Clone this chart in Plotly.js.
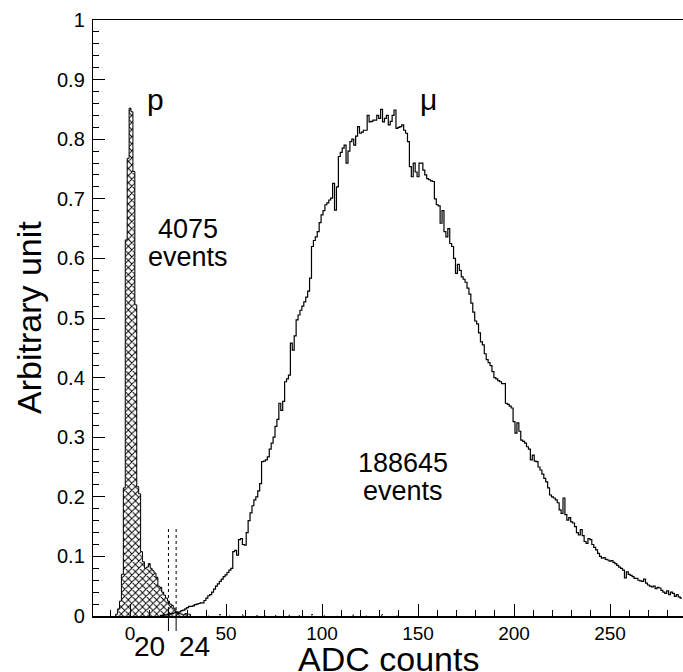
<!DOCTYPE html>
<html>
<head>
<meta charset="utf-8">
<script src="https://cdn.plot.ly/plotly-3.0.1.min.js"></script>
<style>html,body{margin:0;padding:0;background:#fff;}#chart{width:683px;height:672px;}</style>
</head>
<body>
<div id="chart"></div>
<script>
// ---------------- data ----------------
// proton histogram (1 ADC bins), first bin centre:
const pFirstBin = -7;
const pCounts = [0.003, 0.012, 0.025, 0.07, 0.215, 0.631, 0.768, 0.852, 0.846, 0.746,
  0.522, 0.217, 0.205, 0.108, 0.091, 0.08, 0.082, 0.088, 0.08, 0.076,
  0.072, 0.065, 0.05, 0.048, 0.04, 0.035, 0.03, 0.025, 0.02, 0.018,
  0.013, 0.008, 0.005, 0.004, 0.003, 0.002, 0.004, 0.003, 0.003];
// sparse tail entries of the proton histogram
const pTailBins = [41, 47, 52, 59, 66, 71, 76, 83, 88, 95, 101, 108, 116, 123, 131, 139];
const pTailCounts = [0.002, 0.003, 0.002, 0.003, 0.002, 0.003, 0.002, 0.003, 0.002, 0.003, 0.002, 0.002, 0.003, 0.002, 0.003, 0.002];

// muon histogram (1 ADC bins), first bin centre:
const muFirstBin = 16;
const muCounts = [
  0.001, 0.001, 0.002, 0.002, 0.003, 0.004, 0.004, 0.005, 0.006, 0.006,   // 16-25
  0.007, 0.009, 0.010, 0.012, 0.014, 0.016, 0.016, 0.017, 0.019, 0.020,   // 26-35
  0.021, 0.022, 0.022, 0.026, 0.030, 0.034, 0.036, 0.040, 0.045, 0.050,   // 36-45
  0.054, 0.058, 0.062, 0.066, 0.069, 0.073, 0.077, 0.080, 0.108, 0.110,   // 46-55
  0.102, 0.128, 0.130, 0.120, 0.119, 0.140, 0.160, 0.173, 0.185, 0.195,   // 56-65
  0.200, 0.210, 0.222, 0.259, 0.260, 0.262, 0.267, 0.280, 0.290, 0.300,   // 66-75
  0.318, 0.330, 0.357, 0.345, 0.360, 0.393, 0.398, 0.404, 0.458, 0.446,   // 76-85
  0.470, 0.497, 0.505, 0.513, 0.520, 0.527, 0.535, 0.545, 0.567, 0.620,   // 86-95
  0.630, 0.636, 0.645, 0.660, 0.673, 0.680, 0.690, 0.693, 0.698, 0.701,   // 96-105
  0.726, 0.681, 0.720, 0.771, 0.778, 0.785, 0.790, 0.760, 0.780, 0.796,   // 106-115
  0.800, 0.790, 0.805, 0.821, 0.810, 0.812, 0.815, 0.815, 0.840, 0.829,   // 116-125
  0.830, 0.832, 0.832, 0.840, 0.835, 0.850, 0.829, 0.835, 0.840, 0.824,   // 126-135
  0.830, 0.840, 0.849, 0.818, 0.820, 0.821, 0.824, 0.815, 0.810, 0.796,   // 136-145
  0.754, 0.737, 0.760, 0.745, 0.737, 0.760, 0.760, 0.748, 0.740, 0.734,   // 146-155
  0.732, 0.730, 0.729, 0.700, 0.690, 0.688, 0.659, 0.680, 0.645, 0.636,   // 156-165
  0.650, 0.625, 0.620, 0.600, 0.575, 0.590, 0.580, 0.569, 0.565, 0.560,   // 166-175
  0.550, 0.540, 0.525, 0.510, 0.495, 0.490, 0.475, 0.460, 0.455, 0.440,   // 176-185
  0.430, 0.425, 0.420, 0.410, 0.400, 0.398, 0.395, 0.393, 0.390, 0.390,   // 186-195
  0.357, 0.355, 0.352, 0.349, 0.326, 0.307, 0.324, 0.310, 0.295, 0.293,   // 196-205
  0.290, 0.284, 0.280, 0.262, 0.270, 0.260, 0.259, 0.250, 0.245, 0.238,   // 206-215
  0.231, 0.225, 0.215, 0.203, 0.200, 0.198, 0.195, 0.190, 0.178, 0.172,   // 216-225
  0.198, 0.170, 0.161, 0.165, 0.158, 0.156, 0.150, 0.140, 0.136, 0.145,   // 226-235
  0.135, 0.125, 0.122, 0.130, 0.128, 0.120, 0.115, 0.111, 0.105, 0.100,   // 236-245
  0.097, 0.098, 0.095, 0.094, 0.092, 0.093, 0.090, 0.088, 0.085, 0.082,   // 246-255
  0.080, 0.077, 0.064, 0.074, 0.070, 0.068, 0.066, 0.063, 0.063, 0.060,   // 256-265
  0.059, 0.058, 0.062, 0.055, 0.052, 0.050, 0.049, 0.050, 0.046, 0.048,   // 266-275
  0.047, 0.043, 0.040, 0.038, 0.042, 0.036, 0.040, 0.038, 0.033, 0.036,   // 276-285
  0.032, 0.030                                                            // 286-287
];

const cuts = [20, 24];          // cut positions (ADC counts)
const cutLineTop = 0.151;       // height of dotted cut markers
const xTickVals = [0, 50, 100, 150, 200, 250];
const xTickText = ['0', '50', '100', '150', '200', '250'];

// ---------------- helpers ----------------
function stepXY(firstBin, counts) {
  const xs = [firstBin - 0.5], ys = [0];
  counts.forEach((v, i) => { xs.push(firstBin + i - 0.5); ys.push(v); });
  xs.push(firstBin + counts.length - 0.5); ys.push(0);
  return {xs, ys};
}

const FONT = 'Liberation Sans, Arial, Helvetica, sans-serif';

const pBins = pCounts.map((_, i) => pFirstBin + i).concat(pTailBins);
const pVals = pCounts.concat(pTailCounts);
const pStep = stepXY(pFirstBin, pCounts);

const muStep = (function () {
  const xs = [], ys = [];
  muCounts.forEach((v, i) => { xs.push(muFirstBin + i - 0.5); ys.push(v); });
  xs.push(muFirstBin + muCounts.length - 0.5); ys.push(muCounts[muCounts.length - 1]);
  return {xs, ys};
})();

const traces = [
  {
    type: 'bar', x: pBins, y: pVals, width: 1,
    marker: {color: 'white', line: {width: 0},
             pattern: {shape: 'x', fgcolor: '#000', bgcolor: '#fff', size: 5, solidity: 0.35}},
    hoverinfo: 'skip', showlegend: false
  },
  {
    type: 'scatter', mode: 'lines', x: pStep.xs, y: pStep.ys,
    line: {shape: 'hv', color: '#000', width: 1}, hoverinfo: 'skip', showlegend: false
  },
  {
    type: 'scatter', mode: 'lines', x: muStep.xs, y: muStep.ys,
    line: {shape: 'hv', color: '#000', width: 1.2}, hoverinfo: 'skip', showlegend: false
  }
];

const plotH = 596; // px height of plotting area
const shapes = [];
cuts.forEach(c => {
  shapes.push({type: 'line', xref: 'x', yref: 'y', x0: c, x1: c, y0: 0, y1: cutLineTop,
               line: {color: '#000', width: 1, dash: 'dot'}});
  shapes.push({type: 'line', xref: 'x', yref: 'paper', x0: c, x1: c, y0: 0, y1: -15 / plotH,
               line: {color: '#000', width: 1}});
});

const annotations = [
  {text: '20', x: cuts[0], xref: 'x', y: -31 / plotH, yref: 'paper', xanchor: 'right', yanchor: 'middle',
   xshift: -1, showarrow: false, font: {family: FONT, size: 28, color: '#000'}},
  {text: '24', x: cuts[1], xref: 'x', y: -31 / plotH, yref: 'paper', xanchor: 'left', yanchor: 'middle',
   xshift: 1, showarrow: false, font: {family: FONT, size: 28, color: '#000'}},
  {text: 'ADC counts', x: 0.5, xref: 'paper', y: -43 / plotH, yref: 'paper', xanchor: 'center', yanchor: 'middle',
   showarrow: false, font: {family: FONT, size: 34, color: '#000'}},
  {text: 'Arbitrary unit', x: -64 / 590, xref: 'paper', y: 0.5, yref: 'paper', xanchor: 'center', yanchor: 'middle',
   textangle: -90, showarrow: false, font: {family: FONT, size: 34, color: '#000'}},
  {text: 'p', x: 13, xref: 'x', y: 0.866, yref: 'y', showarrow: false, font: {family: FONT, size: 30, color: '#000'}},
  {text: 'μ', x: 155.2, xref: 'x', y: 0.866, yref: 'y', showarrow: false, font: {family: FONT, size: 30, color: '#000'}},
  {text: '4075', x: 30, xref: 'x', y: 0.650, yref: 'y', showarrow: false, font: {family: FONT, size: 27, color: '#000'}},
  {text: 'events', x: 30, xref: 'x', y: 0.603, yref: 'y', showarrow: false, font: {family: FONT, size: 27, color: '#000'}},
  {text: '188645', x: 142.2, xref: 'x', y: 0.256, yref: 'y', showarrow: false, font: {family: FONT, size: 27, color: '#000'}},
  {text: 'events', x: 142.2, xref: 'x', y: 0.210, yref: 'y', showarrow: false, font: {family: FONT, size: 27, color: '#000'}}
];

const layout = {
  width: 683, height: 672,
  margin: {l: 93, r: 0, t: 20, b: 56, pad: 0},
  paper_bgcolor: '#fff', plot_bgcolor: '#fff',
  font: {family: FONT, color: '#000'},
  bargap: 0, showlegend: false,
  xaxis: {
    range: [-19.3, 288], showgrid: false, zeroline: false,
    showline: true, linecolor: '#000', linewidth: 1.5, mirror: true,
    ticks: 'inside', ticklen: 12, tickwidth: 1, tickcolor: '#000',
    tickvals: xTickVals, ticktext: xTickText, ticklabelstandoff: 0,
    tickfont: {family: FONT, size: 19, color: '#000'},
    minor: {dtick: 10, tick0: 0, ticks: 'inside', ticklen: 6, tickwidth: 1, tickcolor: '#000', showgrid: false},
    automargin: false, fixedrange: true
  },
  yaxis: {
    range: [0, 1], showgrid: false, zeroline: false,
    showline: true, linecolor: '#000', linewidth: 1.2,
    ticks: 'inside', ticklen: 12, tickwidth: 1, tickcolor: '#000',
    dtick: 0.1, tick0: 0, ticklabelstandoff: 3,
    tickfont: {family: FONT, size: 20, color: '#000'},
    minor: {dtick: 0.02, tick0: 0, ticks: 'inside', ticklen: 6, tickwidth: 1, tickcolor: '#000', showgrid: false},
    automargin: false, fixedrange: true
  },
  shapes: shapes,
  annotations: annotations
};

Plotly.newPlot('chart', traces, layout, {displayModeBar: false, staticPlot: true});
</script>
</body>
</html>
